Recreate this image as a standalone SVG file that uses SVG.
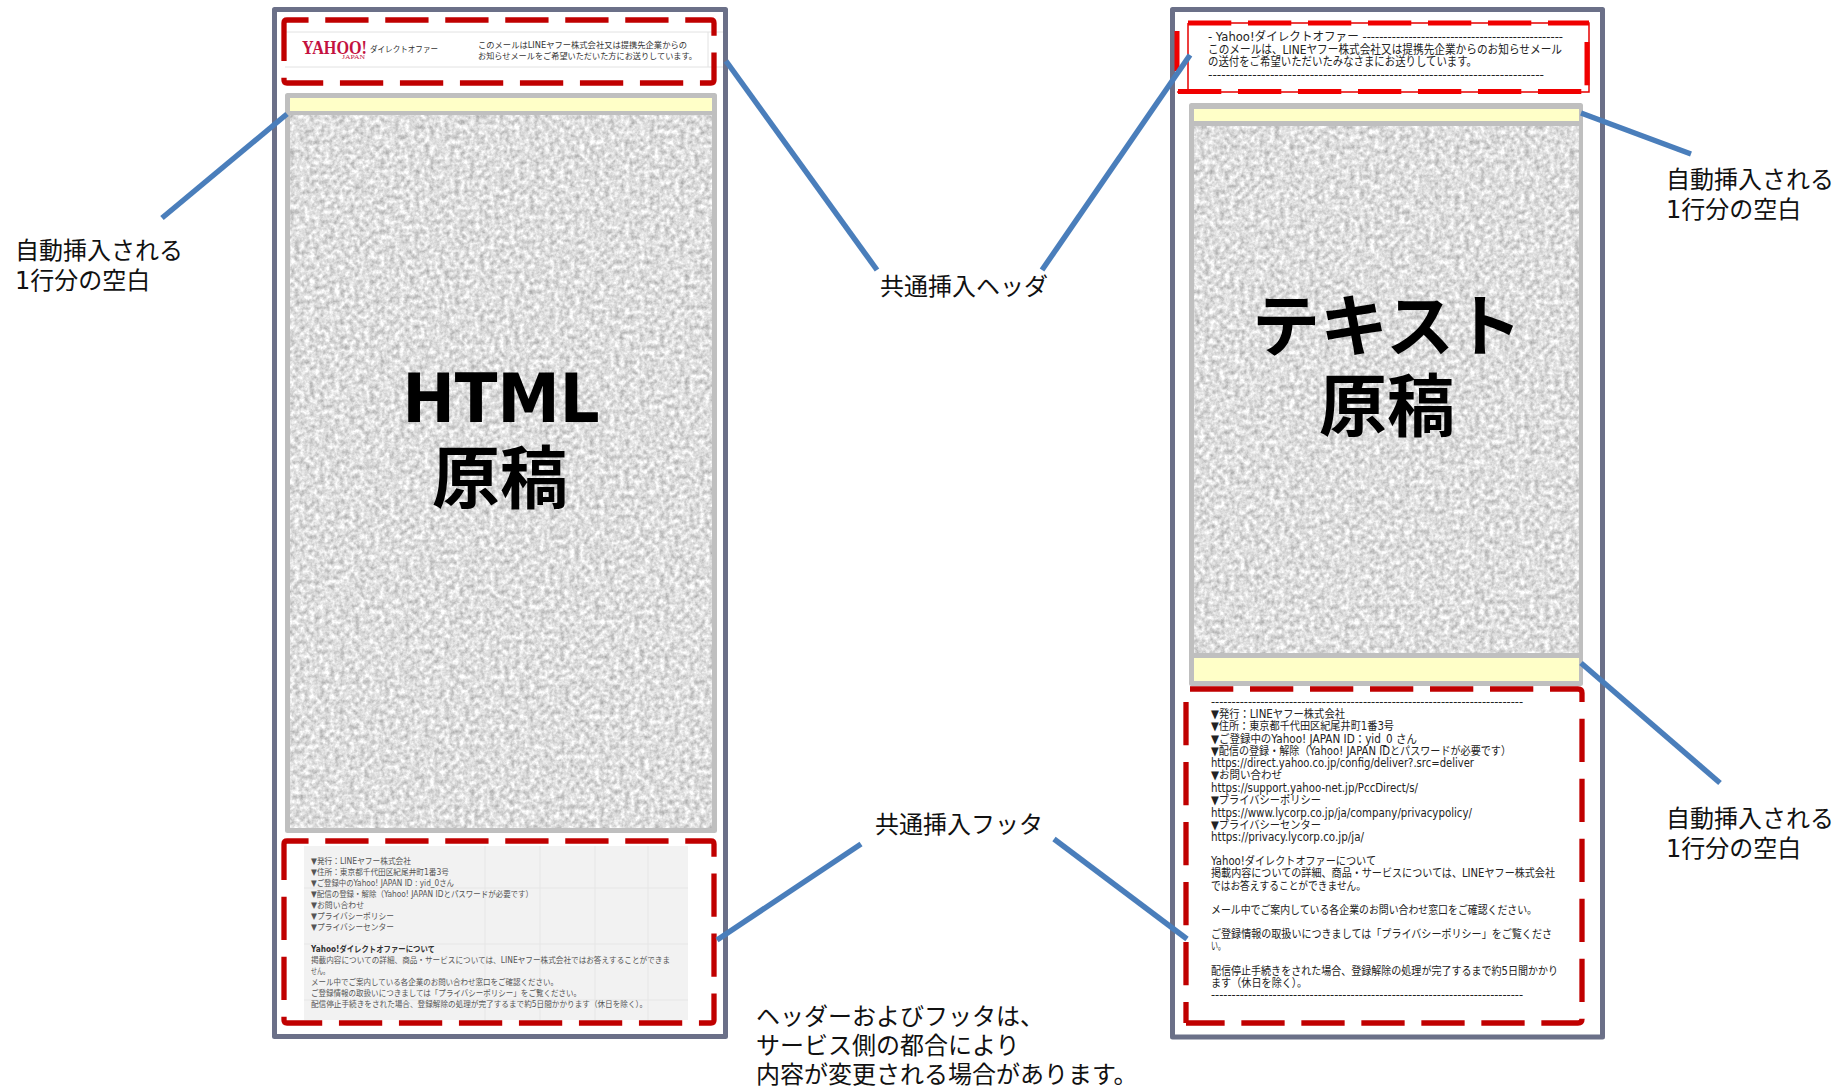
<svg xmlns="http://www.w3.org/2000/svg" width="1845" height="1088" viewBox="0 0 1845 1088">
<style>
text{font-family:"DejaVu Sans","Noto Sans CJK JP",sans-serif;fill:#000}
.lbl{font-size:24px;fill:#111}
.big{font-size:68px;font-weight:700;text-anchor:middle}
.frame{fill:#fff;stroke:#6b7088;stroke-width:5;stroke-linejoin:round}
.body{fill:#bfbfbf;stroke:#bfbfbf;stroke-width:5;stroke-linejoin:round}
.yel{fill:#ffffc8}
.dash{fill:none;stroke:#c00000;stroke-width:5.3;stroke-dasharray:43.3 16.7;stroke-linejoin:round}
.rd{fill:none;stroke:#f00000;stroke-width:5;stroke-dasharray:43.3 16.7}
.conn{stroke:#4a7ebb;stroke-width:5.5;fill:none}
.tx{font-size:11.5px;fill:#222}
.hd{font-size:12px;fill:#222}
.sm{font-size:8.5px;fill:#333}
.smg{font-size:8.5px;fill:#555}
.grid{stroke:#e6e6e6;stroke-width:1;fill:none}
</style>
<defs>
<filter id="noise" x="0" y="0" width="100%" height="100%" color-interpolation-filters="sRGB">
<feTurbulence type="fractalNoise" baseFrequency="0.2" numOctaves="3" seed="4"/>
<feColorMatrix type="matrix" values="0.5 0 0 0 0.62 0.5 0 0 0 0.62 0.5 0 0 0 0.62 0 0 0 0 1"/>
<feGaussianBlur stdDeviation="0.7"/>
</filter>
</defs>
<rect width="1845" height="1088" fill="#fff"/>
<g id="left-mail">
<rect class="frame" x="274.5" y="9.5" width="451" height="1027"/>
<rect class="body" x="287.5" y="95.5" width="427" height="735"/>
<rect x="290" y="115" width="422" height="713" filter="url(#noise)"/>
<rect class="yel" x="290" y="98" width="422" height="13"/>
<text class="big" x="501" y="422" textLength="197" lengthAdjust="spacingAndGlyphs">HTML</text>
<text class="big" x="500" y="503">原稿</text>
</g>
<g id="left-header">
<path d="M285 32H723M285 67H723M708 32V67" fill="none" stroke="#e2e2e2"/>
<text x="302" y="54" font-size="18" font-weight="700" textLength="65" lengthAdjust="spacingAndGlyphs" style="font-family:'Liberation Serif',serif;fill:#c4123f">YAHOO!</text>
<text x="342" y="59" font-size="7" textLength="23" lengthAdjust="spacingAndGlyphs" style="font-family:'Liberation Serif',serif;fill:#c4123f">JAPAN</text>
<text x="370" y="52" font-size="8.5" textLength="68" lengthAdjust="spacingAndGlyphs" style="fill:#333">ダイレクトオファー</text>
<text x="478" y="47.5" class="sm" textLength="209" lengthAdjust="spacingAndGlyphs">このメールはLINEヤフー株式会社又は提携先企業からの</text>
<text x="478" y="58.5" class="sm" textLength="219" lengthAdjust="spacingAndGlyphs">お知らせメールをご希望いただいた方にお送りしています。</text>
<path class="dash" d="M284 40V23Q284 20 287 20H711Q714 20 714 23V80Q714 83 711 83H287Q284 83 284 80Z"/>
</g>
<g id="left-footer">
<rect x="304" y="846" width="384" height="174" fill="#f2f2f2"/>
<path class="grid" d="M304 888H688M304 944H688M304 1000H688M485 846V1020M540 846V1020M595 846V1020M648 846V1020"/>
<text class="smg" x="311" y="864" textLength="100" lengthAdjust="spacingAndGlyphs">▼発行：LINEヤフー株式会社</text>
<text class="smg" x="311" y="875" textLength="138" lengthAdjust="spacingAndGlyphs">▼住所：東京都千代田区紀尾井町1番3号</text>
<text class="smg" x="311" y="886" textLength="143" lengthAdjust="spacingAndGlyphs">▼ご登録中のYahoo! JAPAN ID : yid_0さん</text>
<text class="smg" x="311" y="897" textLength="222" lengthAdjust="spacingAndGlyphs">▼配信の登録・解除（Yahoo! JAPAN IDとパスワードが必要です）</text>
<text class="smg" x="311" y="908" textLength="53" lengthAdjust="spacingAndGlyphs">▼お問い合わせ</text>
<text class="smg" x="311" y="919" textLength="83" lengthAdjust="spacingAndGlyphs">▼プライバシーポリシー</text>
<text class="smg" x="311" y="930" textLength="83" lengthAdjust="spacingAndGlyphs">▼プライバシーセンター</text>
<text class="smg" x="311" y="952" font-weight="700" textLength="124" lengthAdjust="spacingAndGlyphs" style="fill:#333">Yahoo!ダイレクトオファーについて</text>
<text class="smg" x="311" y="963" textLength="359" lengthAdjust="spacingAndGlyphs">掲載内容についての詳細、商品・サービスについては、LINEヤフー株式会社ではお答えすることができま</text>
<text class="smg" x="311" y="974" textLength="18" lengthAdjust="spacingAndGlyphs">せん。</text>
<text class="smg" x="311" y="985" textLength="247" lengthAdjust="spacingAndGlyphs">メール中でご案内している各企業のお問い合わせ窓口をご確認ください。</text>
<text class="smg" x="311" y="996" textLength="270" lengthAdjust="spacingAndGlyphs">ご登録情報の取扱いにつきましては「プライバシーポリシー」をご覧ください。</text>
<text class="smg" x="311" y="1007" textLength="336" lengthAdjust="spacingAndGlyphs">配信停止手続きをされた場合、登録解除の処理が完了するまで約5日間かかります（休日を除く）。</text>
<path class="dash" d="M284 861V844Q284 841 287 841H711Q714 841 714 844V1020Q714 1023 711 1023H287Q284 1023 284 1020Z"/>
</g>
<g id="right-mail">
<rect class="frame" x="1172.5" y="9.5" width="430" height="1027.5"/>
<rect class="body" x="1191.5" y="105.5" width="389" height="578"/>
<rect x="1194" y="126" width="385" height="527" filter="url(#noise)"/>
<rect class="yel" x="1194" y="109" width="385" height="12"/>
<rect class="yel" x="1194" y="658" width="385" height="23"/>
<text class="big" x="1387" y="351">テキスト</text>
<text class="big" x="1387" y="431">原稿</text>
</g>
<g id="right-header">
<path d="M1188 23H1589V92H1177M1188 23V92" fill="none" stroke="#e60000" stroke-width="1.5"/>
<path class="rd" d="M1188 23H1589"/>
<path class="rd" d="M1587 42V92"/>
<path class="rd" d="M1178 91.5H1589"/>
<line x1="1177" y1="31" x2="1177" y2="71" stroke="#f00000" stroke-width="5"/>
<text class="hd" x="1208" y="41" textLength="355" lengthAdjust="spacingAndGlyphs">- Yahoo!ダイレクトオファー ------------------------------------------------</text>
<text class="hd" x="1208" y="54" textLength="354" lengthAdjust="spacingAndGlyphs">このメールは、LINEヤフー株式会社又は提携先企業からのお知らせメール</text>
<text class="hd" x="1208" y="66" textLength="269" lengthAdjust="spacingAndGlyphs">の送付をご希望いただいたみなさまにお送りしています。</text>
<text class="hd" x="1208" y="79" textLength="336" lengthAdjust="spacingAndGlyphs">----------------------------------------------------------------------------</text>
</g>
<g id="right-footer">
<text class="tx" x="1211" y="706" textLength="312" lengthAdjust="spacingAndGlyphs">----------------------------------------------------------------------------</text>
<text class="tx" x="1211" y="718" textLength="134" lengthAdjust="spacingAndGlyphs">▼発行：LINEヤフー株式会社</text>
<text class="tx" x="1211" y="730" textLength="183" lengthAdjust="spacingAndGlyphs">▼住所：東京都千代田区紀尾井町1番3号</text>
<text class="tx" x="1211" y="743" textLength="206" lengthAdjust="spacingAndGlyphs">▼ご登録中のYahoo! JAPAN ID：yid_0 さん</text>
<text class="tx" x="1211" y="755" textLength="300" lengthAdjust="spacingAndGlyphs">▼配信の登録・解除（Yahoo! JAPAN IDとパスワードが必要です）</text>
<text class="tx" x="1211" y="767" textLength="263" lengthAdjust="spacingAndGlyphs">https://direct.yahoo.co.jp/config/deliver?.src=deliver</text>
<text class="tx" x="1211" y="779" textLength="71" lengthAdjust="spacingAndGlyphs">▼お問い合わせ</text>
<text class="tx" x="1211" y="792" textLength="207" lengthAdjust="spacingAndGlyphs">https://support.yahoo-net.jp/PccDirect/s/</text>
<text class="tx" x="1211" y="804" textLength="110" lengthAdjust="spacingAndGlyphs">▼プライバシーポリシー</text>
<text class="tx" x="1211" y="817" textLength="261" lengthAdjust="spacingAndGlyphs">https://www.lycorp.co.jp/ja/company/privacypolicy/</text>
<text class="tx" x="1211" y="829" textLength="110" lengthAdjust="spacingAndGlyphs">▼プライバシーセンター</text>
<text class="tx" x="1211" y="841" textLength="153" lengthAdjust="spacingAndGlyphs">https://privacy.lycorp.co.jp/ja/</text>
<text class="tx" x="1211" y="865" textLength="165" lengthAdjust="spacingAndGlyphs">Yahoo!ダイレクトオファーについて</text>
<text class="tx" x="1211" y="877" textLength="344" lengthAdjust="spacingAndGlyphs">掲載内容についての詳細、商品・サービスについては、LINEヤフー株式会社</text>
<text class="tx" x="1211" y="890" textLength="155" lengthAdjust="spacingAndGlyphs">ではお答えすることができません。</text>
<text class="tx" x="1211" y="914" textLength="326" lengthAdjust="spacingAndGlyphs">メール中でご案内している各企業のお問い合わせ窓口をご確認ください。</text>
<text class="tx" x="1211" y="938" textLength="341" lengthAdjust="spacingAndGlyphs">ご登録情報の取扱いにつきましては「プライバシーポリシー」をご覧くださ</text>
<text class="tx" x="1211" y="950" textLength="14" lengthAdjust="spacingAndGlyphs">い。</text>
<text class="tx" x="1211" y="975" textLength="347" lengthAdjust="spacingAndGlyphs">配信停止手続きをされた場合、登録解除の処理が完了するまで約5日間かかり</text>
<text class="tx" x="1211" y="987" textLength="96" lengthAdjust="spacingAndGlyphs">ます（休日を除く）。</text>
<text class="tx" x="1211" y="999" textLength="312" lengthAdjust="spacingAndGlyphs">----------------------------------------------------------------------------</text>
<path class="dash" d="M1190 689H1578Q1582 689 1582 693V1019Q1582 1023 1578 1023H1186"/>
<path class="dash" d="M1186 702V1023"/>
</g>
<g id="connectors">
<line class="conn" x1="162" y1="218" x2="287" y2="114"/>
<line class="conn" x1="726" y1="61" x2="877" y2="270"/>
<line class="conn" x1="1190" y1="55" x2="1042" y2="270"/>
<line class="conn" x1="717" y1="940" x2="861" y2="844"/>
<line class="conn" x1="1187" y1="939" x2="1054" y2="839"/>
<line class="conn" x1="1581" y1="113" x2="1691" y2="154"/>
<line class="conn" x1="1581" y1="663" x2="1720" y2="783"/>
</g>
<g id="labels">
<text class="lbl" x="15" y="259">自動挿入される</text>
<text class="lbl" x="15" y="289">1行分の空白</text>
<text class="lbl" x="880" y="295">共通挿入ヘッダ</text>
<text class="lbl" x="875" y="833">共通挿入フッタ</text>
<text class="lbl" x="1666" y="188">自動挿入される</text>
<text class="lbl" x="1666" y="218">1行分の空白</text>
<text class="lbl" x="1666" y="827">自動挿入される</text>
<text class="lbl" x="1666" y="857">1行分の空白</text>
<text class="lbl" x="756" y="1025">ヘッダーおよびフッタは、</text>
<text class="lbl" x="756" y="1054">サービス側の都合により</text>
<text class="lbl" x="756" y="1083">内容が変更される場合があります。</text>
</g>
</svg>
